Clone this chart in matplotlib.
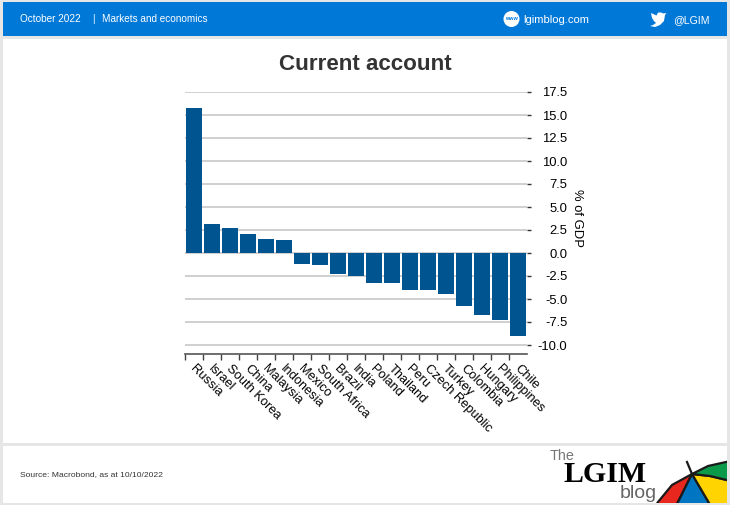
import numpy as np
import matplotlib
matplotlib.use('Agg')
import matplotlib.pyplot as plt
from matplotlib.patches import Rectangle, Circle, Polygon

plt.rcParams['font.family'] = ['Liberation Sans', 'DejaVu Sans']

countries = ['Russia', 'Israel', 'South Korea', 'China', 'Malaysia', 'Indonesia', 'Mexico',
             'South Africa', 'Brazil', 'India', 'Poland', 'Thailand', 'Peru', 'Czech Republic',
             'Turkey', 'Colombia', 'Hungary', 'Philippines', 'Chile']
current_account = [15.76, 3.2, 2.72, 2.07, 1.52, 1.41, -1.15, -1.3, -2.3, -2.55, -3.3, -3.3,
                   -4.0, -4.05, -4.45, -5.8, -6.7, -7.3, -9.0]
y_ticks = [17.5, 15.0, 12.5, 10.0, 7.5, 5.0, 2.5, 0.0, -2.5, -5.0, -7.5, -10.0]

W, H = 730, 505
BLUE = '#0078d7'
BAR = '#005590'
GRID = '#cfcfcf'
EDGE = '#e6e6e6'

fig = plt.figure(figsize=(W / 100, H / 100), dpi=100)

# page furniture, in pixel coordinates
bg = fig.add_axes([0, 0, 1, 1])
bg.set_xlim(0, W)
bg.set_ylim(H, 0)
bg.axis('off')
bg.add_patch(Rectangle((0, 0), W, H, fc=EDGE, ec='none'))
bg.add_patch(Rectangle((3, 38.5), W - 6, 404.5, fc='white', ec='none'))
footer = Rectangle((3, 445.5), W - 6, 57.5, fc='white', ec='none')
bg.add_patch(footer)
bg.add_patch(Rectangle((3, 2), W - 6, 34, fc=BLUE, ec='none'))

bg.text(20, 19, 'October 2022', color='white', fontsize=7.2, va='center')
bg.text(92, 19, '|', color='white', fontsize=7.2, va='center')
bg.text(102, 19, 'Markets and economics', color='white', fontsize=7.2, va='center')
bg.add_patch(Circle((511.5, 19), 8, fc='white', ec='none'))
bg.text(511.5, 19, 'www', color=BLUE, fontsize=4, fontweight='bold', ha='center', va='center')
bg.text(523.5, 20, 'lgimblog.com', color='white', fontsize=8.1, va='center')
bird = [(650, 26), (655, 27), (660, 25), (664, 21), (665, 15), (666.5, 13), (663.5, 13.5), (661, 12.5),
        (658, 12.5), (656.5, 15.5), (651, 13), (652, 18), (654, 21), (656, 23), (653, 25)]
bg.add_patch(Polygon(bird, closed=True, fc='white', ec='none'))
bg.text(673, 20, '@LGIM', color='white', fontsize=7.6, va='center')

bg.text(365, 65, 'Current account', color='#333333', fontsize=16.1, fontweight='bold', ha='center', va='center')
bg.text(20, 474.5, 'Source: Macrobond, as at 10/10/2022', color='#333333', fontsize=6.1, va='center')

# logo
bg.text(550, 455.5, 'The', color='#777777', fontsize=10.4, va='center')
bg.text(563, 474, 'LGIM', color='black', fontsize=21.5, fontweight='bold', family='Liberation Serif',
        va='center')
bg.text(620, 493, 'blog', color='#666666', fontsize=14, va='center')

apex = (692, 474)
panels = [
    ('#e8281e', [apex, (672, 485), (658, 502), (654, 508), (675, 508)]),
    ('#0075c2', [apex, (675, 508), (712, 508)]),
    ('#ffd400', [apex, (712, 508), (735, 508), (735, 482), (710, 476)]),
    ('#0a9a4a', [apex, (710, 476), (735, 482), (735, 460), (708, 466)]),
]
for colour, pts in panels:
    panel = Polygon(pts, closed=True, fc=colour, ec='#1a1a1a', lw=1.6, joinstyle='round')
    bg.add_patch(panel)
    panel.set_clip_path(footer)
bg.plot([687, apex[0]], [462, apex[1]], color='#1a1a1a', lw=1.6)

# chart, y axis placed so that 17.5 and -10 fall on their pixel rows
top_px, bot_px = 92, 353.5
px_unit = (345 - 92) / 27.5
ymax = 17.5
ymin = ymax - (bot_px - top_px) / px_unit
ax = fig.add_axes([185 / W, 1 - bot_px / H, (527 - 185) / W, (bot_px - top_px) / H])
ax.patch.set_alpha(0)

x = np.arange(len(countries))
ax.bar(x, current_account, width=0.92, color=BAR, zorder=3)
ax.set_xlim(-0.5, len(countries) - 0.5)
ax.set_ylim(ymin, ymax)

ax.yaxis.tick_right()
ax.set_yticks(y_ticks)
ax.set_yticklabels(['%.1f' % v for v in y_ticks], ha='right')
ax.tick_params(axis='y', length=3, width=1, color='#333333', pad=26, labelsize=9.4, labelcolor='black')
ax.yaxis.grid(True, color=GRID, lw=1.4, zorder=0)
ax.set_axisbelow(True)

ax.set_xticks(x - 0.5)
ax.set_xticklabels([])
ax.tick_params(axis='x', length=4, width=1, color='#444444')

for xi, name in zip(x, countries):
    ax.annotate(name, (xi, 0), xycoords=('data', 'axes fraction'), xytext=(-2, -13),
                textcoords='offset pixels', rotation=-45, rotation_mode='anchor',
                ha='left', va='center', fontsize=9.3, color='black')

for s in ['top', 'left', 'right']:
    ax.spines[s].set_visible(False)
ax.spines['bottom'].set_color('#555555')
ax.spines['bottom'].set_linewidth(1.2)

bg.text(577, 218, '% of GDP', rotation=270, color='black', fontsize=9.4, ha='center', va='center')

fig.savefig('out.png', dpi=100)
